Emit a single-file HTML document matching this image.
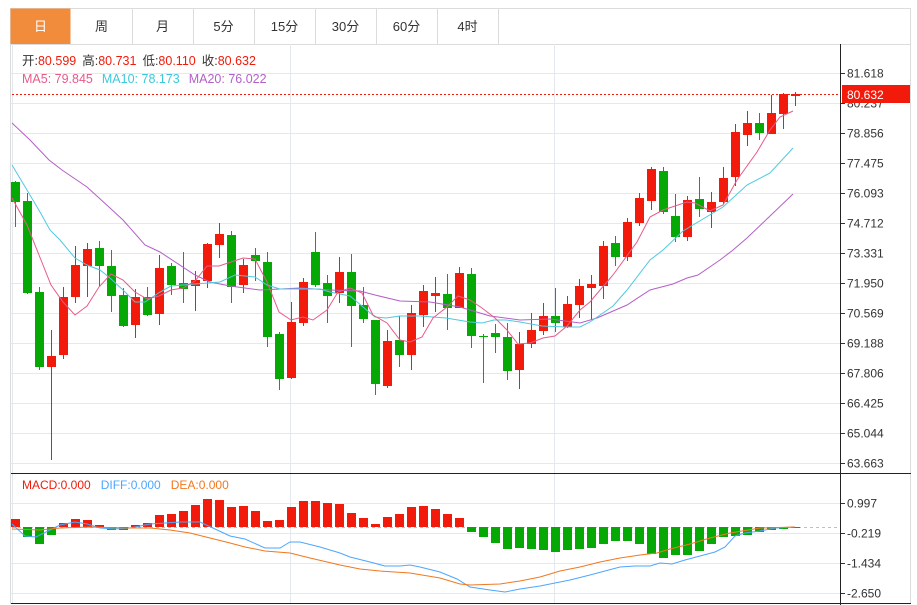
<!DOCTYPE html>
<html><head><meta charset="utf-8"><style>
body{margin:0;background:#fff;width:917px;height:605px;overflow:hidden;font-family:"Liberation Sans","Noto Sans CJK SC",sans-serif}
svg{position:absolute;left:0;top:0}
</style></head><body>
<svg id="s" width="917" height="605" xmlns="http://www.w3.org/2000/svg" font-family="Liberation Sans, Noto Sans CJK SC, sans-serif"></svg>
<script>
var s=document.getElementById('s'),h='';
function L(x1,y1,x2,y2,c,w,d){h+='<line x1="'+x1+'" y1="'+y1+'" x2="'+x2+'" y2="'+y2+'" stroke="'+c+'" stroke-width="'+(w||1)+'"'+(d?' stroke-dasharray="'+d+'"':'')+'/>';}
function R(x,y,w,hh,c,st){h+='<rect x="'+x+'" y="'+y+'" width="'+w+'" height="'+hh+'" fill="'+c+'"'+(st?' stroke="'+st+'"':'')+'/>';}
function T(x,y,t,c,sz,a){h+='<text x="'+x+'" y="'+y+'" fill="'+c+'" font-size="'+(sz||12)+'"'+(a?' text-anchor="'+a+'"':'')+'>'+t+'</text>';}
function P(pts,c){h+='<polyline fill="none" stroke="'+c+'" stroke-width="1" points="'+pts.map(function(p){return p.join(',')}).join(' ')+'"/>';}
R(10.5,8.5,900,595,'#fff','#dcdcdc');
var tabs=['日','周','月','5分','15分','30分','60分','4时'];
for(var i=0;i<8;i++){var x=10+i*61;if(i==0)R(x+0.5,8.5,60,36,'#f08c3c');else L(x+61.5,8,x+61.5,44,'#dcdcdc');T(x+30.5,31,tabs[i],i==0?'#fff':'#333',13,'middle');}
L(10,44.5,911,44.5,'#dcdcdc');
var pl=['81.618','80.237','78.856','77.475','76.093','74.712','73.331','71.950','70.569','69.188','67.806','66.425','65.044','63.663'];
for(i=0;i<14;i++){var y=73+30*i;L(11,y+.5,840,y+.5,'#e4e9ef');L(840,y+.5,845,y+.5,'#333');T(847,y+4.5,pl[i],'#333',12);}
var ml=['0.997','-0.219','-1.434','-2.650'];
for(i=0;i<4;i++){var y=503+30*i;L(11,y+.5,840,y+.5,'#e4e9ef');L(840,y+.5,845,y+.5,'#333');T(847,y+4.5,ml[i],'#333',12);}
L(290.5,44,290.5,603,'#e4e9ef');L(554.5,44,554.5,603,'#e4e9ef');L(12.5,44,12.5,603,'#e4e9ef');
var C=[[182,202,181,227,'g'],[201,293,193,294,'g'],[292,367,287,370,'g'],[356,367,330,460,'r'],[297,355,287,359,'r'],[265,297,246,303,'r'],[249,266,243,297,'r'],[248,266,241,286,'g'],[266,296,250,312,'g'],[295,326,288,327,'g'],
[297,325,289,338,'r'],[297,315,287,316,'g'],[268,314,255,325,'r'],[266,285,263,295,'g'],[283,289,252,303,'g'],[280,286,271,311,'r'],[244,281,243,288,'r'],[234,245,223,258,'r'],[235,287,231,303,'g'],[265,285,259,293,'r'],
[255,261,248,281,'g'],[262,337,252,347,'g'],[334,379,332,390,'g'],[322,378,302,379,'r'],[282,323,278,326,'r'],[252,285,232,287,'g'],[283,296,275,323,'g'],[272,293,257,303,'r'],[272,306,254,347,'g'],[305,319,287,323,'g'],
[320,384,320,395,'g'],[341,386,330,388,'r'],[340,355,316,367,'g'],[313,355,305,370,'r'],[291,315,285,327,'r'],[293,296,277,312,'r'],[294,308,274,330,'g'],[273,308,267,308,'r'],[274,336,268,348,'g'],[336,337,334,383,'g'],
[333,337,324,353,'g'],[337,371,323,380,'g'],[344,370,332,389,'r'],[330,344,313,348,'r'],[316,331,303,335,'r'],[316,323,288,332,'g'],[304,327,296,328,'r'],[286,305,279,318,'r'],[284,288,275,320,'r'],[246,286,241,299,'r'],
[243,257,236,266,'g'],[222,257,218,261,'r'],[198,223,193,226,'r'],[169,201,167,210,'r'],[171,212,167,214,'g'],[216,237,194,242,'g'],[200,237,196,241,'r'],[199,209,177,217,'g'],[202,212,192,228,'r'],[178,202,167,204,'r'],
[132,177,124,186,'r'],[123,135,111,146,'r'],[123,133,113,140,'g'],[113,134,95,134,'r'],[94,114,93,129,'r'],[94,96,92,106,'r']];
var col={r:'#f21a0a',g:'#05a805'};
for(i=0;i<C.length;i++){var c=C[i],x=15+12*i,k=col[c[4]];L(x+.5,c[2],x+.5,c[3],k);R(x-4,c[0],9,Math.max(1,c[1]-c[0]),k);}
P([[12,123],[30,140],[49,160],[62,170],[87,187],[110,208],[123,220],[145,245],[160,252],[195,275],[210,282],[230,286],[260,290],[280,289],[300,288],[330,290],[360,291],[375,295],[400,301],[430,302],[460,307],[490,316],[520,320],[550,319],[580,323],[597,318],[627,305],[650,290],[673,284],[687,278],[698,275],[720,260],[733,250],[747,238],[793,194]],'#b45fc8');
P([[12,165],[27,190],[40,212],[50,230],[60,240],[75,258],[87,265],[100,270],[110,278],[123,290],[135,302],[145,302],[160,292],[171,286],[183,285],[195,284],[220,282],[235,275],[255,277],[267,285],[280,289],[320,289],[330,292],[350,296],[375,317],[386,318],[400,316],[420,316],[446,318],[470,322],[482,323],[494,320],[506,320],[520,322],[542,326],[566,327],[580,327],[590,322],[613,306],[627,290],[650,260],[663,250],[683,231],[723,207],[747,185],[770,173],[793,148]],'#4fc9e0');
P([[12,198],[27,225],[39,255],[51,285],[63,302],[75,315],[87,306],[99,287],[111,274],[123,280],[135,292],[147,299],[159,296],[171,290],[183,288],[195,281],[207,266],[219,266],[231,262],[243,258],[255,259],[267,282],[279,312],[291,320],[303,317],[313,320],[327,310],[338,292],[350,288],[362,293],[373,315],[387,323],[400,340],[410,342],[422,337],[433,318],[447,307],[458,296],[470,300],[482,308],[495,318],[507,330],[518,344],[530,343],[543,338],[555,336],[567,326],[580,310],[590,302],[600,290],[613,275],[637,242],[650,217],[663,210],[687,202],[695,203],[710,211],[723,205],[737,180],[757,152],[770,130],[780,117],[793,111]],'#e85a8a');
L(12,94.5,840,94.5,'#f21a0a',1,'2,2');R(842,85,68,18,'#f21a0a');T(847,99,'80.632','#fff',12);
L(11,473.5,911,473.5,'#222');L(11,603.5,911,603.5,'#222');L(840.5,44,840.5,605,'#222');
L(12,527.5,840,527.5,'#9ccbe8',1,'3,3');
var M=[519,537,544,535,523,519,520,525,530,530,525,523,515,514,511,505,499,500,507,506,511,521,520,507,501,501,503,504,513,518,524,517,514,507,506,509,514,518,532,537,543,549,548,549,550,552,550,549,548,544,541,541,544,554,558,555,555,551,544,537,536,535,532,530,529,528];
for(i=0;i<M.length;i++){var x=15+12*i,v=M[i];if(v<527)R(x-4,v,9,527-v,'#f21a0a');else R(x-4,527,9,v-527,'#05a805');}
P([[12,524],[25,536],[36,537],[50,530],[60,525],[75,522],[87,524],[100,528],[115,529],[130,528],[150,524],[165,523],[180,522],[200,522],[215,529],[230,536],[245,539],[265,548],[280,548],[290,542],[300,542],[320,547],[340,553],[350,557],[370,562],[385,566],[400,566],[410,565],[420,567],[440,572],[457,579],[470,587],[490,590],[505,592],[520,589],[540,586],[555,583],[570,580],[590,575],[605,571],[620,567],[635,566],[650,566],[660,563],[672,564],[685,560],[700,556],[715,552],[725,547],[735,536],[745,533],[760,531],[775,528],[795,527]],'#4da6ff');
P([[12,529],[40,530],[60,528],[90,527],[130,528],[150,528],[170,530],[190,533],[210,538],[230,543],[245,547],[265,551],[290,553],[310,558],[340,565],[360,569],[380,571],[410,573],[440,578],[460,584],[470,585],[500,584],[520,581],[540,577],[560,571],[580,567],[600,562],[620,558],[640,555],[657,553],[670,549],[690,544],[710,538],[730,533],[760,528],[795,527]],'#f07820');
h+='<text x="22" y="65" font-size="12.5"><tspan fill="#333">开:</tspan><tspan fill="#f21a0a">80.599</tspan><tspan fill="#333" dx="6">高:</tspan><tspan fill="#f21a0a">80.731</tspan><tspan fill="#333" dx="6">低:</tspan><tspan fill="#f21a0a">80.110</tspan><tspan fill="#333" dx="6">收:</tspan><tspan fill="#f21a0a">80.632</tspan></text>';
h+='<text x="22" y="83" font-size="12.5"><tspan fill="#e85a8a">MA5: 79.845</tspan><tspan fill="#3cc8dc" dx="9">MA10: 78.173</tspan><tspan fill="#b45fc8" dx="9">MA20: 76.022</tspan></text>';
h+='<text x="22" y="489" font-size="12"><tspan fill="#f21a0a">MACD:0.000</tspan><tspan fill="#4da6ff" dx="10">DIFF:0.000</tspan><tspan fill="#f07820" dx="10">DEA:0.000</tspan></text>';
s.innerHTML=h;
</script>
</body></html>
